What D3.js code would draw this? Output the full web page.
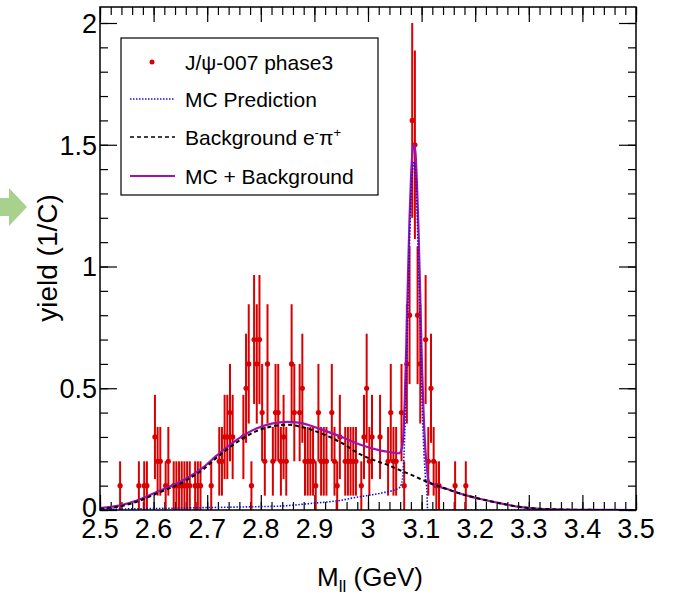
<!DOCTYPE html>
<html>
<head>
<script src="https://d3js.org/d3.v7.min.js"></script>
<style>
body { margin: 0; background: #fff; }
text { font-family: "Liberation Sans", Arial, Helvetica, sans-serif; fill: #000; }
</style>
</head>
<body>
<script>
// data points (bin centre in GeV, yield, error)
var dataMass = [2.5375, 2.5725, 2.5825, 2.5875, 2.6025, 2.6075, 2.6125, 2.6225, 2.6275,
  2.6375, 2.6425, 2.6475, 2.6525, 2.6575, 2.6625, 2.6675, 2.6775, 2.6825, 2.6875,
  2.7075, 2.7225, 2.7275, 2.7325, 2.7375, 2.7425, 2.7475, 2.7675, 2.7725, 2.7775,
  2.7825, 2.7875, 2.7925, 2.7975, 2.8025, 2.8075, 2.8125, 2.8225, 2.8275, 2.8325,
  2.8375, 2.8425, 2.8475, 2.8575, 2.8625, 2.8725, 2.8775, 2.8825, 2.8875, 2.8925,
  2.8975, 2.9025, 2.9075, 2.9125, 2.9175, 2.9225, 2.9325, 2.9375, 2.9425, 2.9475,
  2.9575, 2.9625, 2.9675, 2.9725, 2.9775, 2.9875, 2.9925, 2.9975, 3.0025, 3.0075,
  3.0225, 3.0375, 3.0425, 3.0475, 3.0525, 3.0625, 3.0675, 3.0725, 3.0775, 3.0825,
  3.0875, 3.0925, 3.0975, 3.1075, 3.1125, 3.1175, 3.1225, 3.1275, 3.1325, 3.1625, 3.1825];
var dataYield = [0.1, 0.1, 0.1, 0.1, 0.3, 0.2, 0.2, 0.1, 0.2,
  0.1, 0.1, 0.1, 0.1, 0.1, 0.1, 0.1, 0.1, 0.1, 0.1,
  0.1, 0.2, 0.2, 0.3, 0.3, 0.4, 0.3, 0.3, 0.5, 0.6,
  0.1, 0.7, 0.6, 0.7, 0.4, 0.2, 0.6, 0.2, 0.4, 0.4,
  0.2, 0.3, 0.2, 0.6, 0.4, 0.4, 0.5, 0.2, 0.2, 0.2,
  0.2, 0.1, 0.4, 0.2, 0.2, 0.2, 0.4, 0.2, 0.1, 0.3,
  0.2, 0.2, 0.2, 0.2, 0.2, 0.1, 0.3, 0.5, 0.2, 0.3,
  0.3, 0.2, 0.4, 0.2, 0.2, 0.4, 0.1, 0.6, 0.8, 1.6,
  1.5, 0.8, 0.6, 0.7, 0.2, 0.5, 0.2, 0.1, 0.1, 0.1, 0.1];
var dataError = [0.1, 0.1, 0.1, 0.1, 0.173, 0.141, 0.141, 0.1, 0.141,
  0.1, 0.1, 0.1, 0.1, 0.1, 0.1, 0.1, 0.1, 0.1, 0.1,
  0.1, 0.141, 0.141, 0.173, 0.173, 0.2, 0.173, 0.173, 0.224, 0.245,
  0.1, 0.265, 0.245, 0.265, 0.2, 0.141, 0.245, 0.141, 0.2, 0.2,
  0.141, 0.173, 0.141, 0.245, 0.2, 0.2, 0.224, 0.141, 0.141, 0.141,
  0.141, 0.1, 0.2, 0.141, 0.141, 0.141, 0.2, 0.141, 0.1, 0.173,
  0.141, 0.141, 0.141, 0.141, 0.141, 0.1, 0.173, 0.224, 0.141, 0.173,
  0.173, 0.141, 0.2, 0.141, 0.141, 0.2, 0.1, 0.245, 0.283, 0.4,
  0.387, 0.283, 0.245, 0.265, 0.141, 0.224, 0.141, 0.1, 0.1, 0.1, 0.1];

// MC prediction (blue dotted)
var mcMass = [2.5, 2.6, 2.7, 2.8, 2.836, 2.898, 2.95, 2.973, 3.0, 3.03, 3.0576, 3.062, 3.0655,
  3.0685, 3.0715, 3.0745, 3.0775, 3.0805, 3.0835, 3.086, 3.0885, 3.0915, 3.0944, 3.0976,
  3.1006, 3.1037, 3.107, 3.11, 3.1112, 3.2, 3.5];
var mcYield = [0.003, 0.006, 0.01, 0.014, 0.016, 0.028, 0.04, 0.05, 0.06, 0.072, 0.09, 0.105, 0.16,
  0.31, 0.55, 0.84, 1.1, 1.3, 1.4, 1.43, 1.39, 1.22, 1.0, 0.74,
  0.47, 0.27, 0.14, 0.075, 0, 0, 0];

// background e-pi+ (black dashed)
var bgMass = [2.5, 2.54, 2.57, 2.606, 2.656, 2.693, 2.718, 2.755, 2.793, 2.82, 2.85, 2.874,
  2.911, 2.949, 2.986, 3.021, 3.037, 3.058, 3.081, 3.111, 3.148, 3.18, 3.21, 3.25, 3.282,
  3.32, 3.36, 3.42, 3.5];
var bgYield = [0.005, 0.016, 0.035, 0.068, 0.116, 0.168, 0.215, 0.278, 0.325, 0.343, 0.35, 0.342,
  0.316, 0.278, 0.228, 0.197, 0.185, 0.165, 0.144, 0.115, 0.085, 0.062, 0.045, 0.026, 0.013,
  0.005, 0.002, 0.0005, 0];

// MC + background (magenta)
var sumMass = [2.5, 2.54, 2.57, 2.606, 2.656, 2.693, 2.718, 2.755, 2.793, 2.82, 2.85, 2.874,
  2.911, 2.949, 2.986, 3.024, 3.045, 3.058, 3.062, 3.0655, 3.0685, 3.0715, 3.0745, 3.0775,
  3.0805, 3.0835, 3.086, 3.0885, 3.0915, 3.0944, 3.0976, 3.1006, 3.1037, 3.107, 3.11, 3.113,
  3.118, 3.148, 3.18, 3.21, 3.25, 3.282, 3.32, 3.36, 3.42, 3.5];
var sumYield = [0.008, 0.02, 0.04, 0.074, 0.123, 0.176, 0.224, 0.288, 0.336, 0.355, 0.362, 0.358,
  0.332, 0.302, 0.268, 0.244, 0.236, 0.233, 0.245, 0.29, 0.45, 0.68, 0.95, 1.2,
  1.38, 1.48, 1.5, 1.47, 1.33, 1.14, 0.87, 0.6, 0.4, 0.25, 0.17, 0.12,
  0.108, 0.086, 0.062, 0.045, 0.026, 0.013, 0.005, 0.002, 0.0005, 0];

var xMajor = [2.5, 2.6, 2.7, 2.8, 2.9, 3.0, 3.1, 3.2, 3.3, 3.4, 3.5];
var xLabels = ["2.5", "2.6", "2.7", "2.8", "2.9", "3", "3.1", "3.2", "3.3", "3.4", "3.5"];
var yMajor = [0, 0.5, 1, 1.5, 2];
var yLabels = ["0", "0.5", "1", "1.5", "2"];

var width = 685, height = 596;
var plotL = 100, plotR = 636, plotT = 7, plotB = 510;

var svg = d3.select("body").append("svg")
  .attr("width", width).attr("height", height);

// green arrow piece at the left edge
svg.append("polygon")
  .attr("points", "0,198 9,198 9,188 27,207 9,226 9,216 0,216")
  .attr("fill", "#a9d18e");

var x = d3.scaleLinear().domain([2.5, 3.5]).range([plotL, plotR]);
var y = d3.scaleLinear().domain([0, 2.0657]).range([plotB, plotT]);

svg.append("defs").append("clipPath").attr("id", "clip")
  .append("rect").attr("x", plotL).attr("y", plotT)
  .attr("width", plotR - plotL).attr("height", plotB - plotT);

var xMinor = d3.range(0, 51).map(function(i) { return 2.5 + i * 0.02; });
var yMinor = d3.range(0, 21).map(function(i) { return i * 0.1; });

function tickAxis(axis, vals, size, tr) {
  var g = svg.append("g").attr("transform", tr)
    .call(axis.tickValues(vals).tickSize(size).tickFormat(""));
  g.select(".domain").remove();
  g.selectAll("line").attr("stroke", "#000").attr("stroke-width", 1.2);
}
tickAxis(d3.axisTop(x), xMinor, 8, "translate(0," + plotB + ")");
tickAxis(d3.axisTop(x), xMajor, 15, "translate(0," + plotB + ")");
tickAxis(d3.axisBottom(x), xMinor, 8, "translate(0," + plotT + ")");
tickAxis(d3.axisBottom(x), xMajor, 15, "translate(0," + plotT + ")");
tickAxis(d3.axisRight(y), yMinor, 8, "translate(" + plotL + ",0)");
tickAxis(d3.axisRight(y), yMajor, 17, "translate(" + plotL + ",0)");
tickAxis(d3.axisLeft(y), yMinor, 8, "translate(" + plotR + ",0)");
tickAxis(d3.axisLeft(y), yMajor, 17, "translate(" + plotR + ",0)");

// tick labels
svg.append("g").selectAll("text").data(xMajor).enter().append("text")
  .attr("x", function(d) { return x(d); })
  .attr("y", 538)
  .attr("text-anchor", "middle")
  .style("font-size", "27px")
  .text(function(d, i) { return xLabels[i]; });

svg.append("g").selectAll("text").data(yMajor).enter().append("text")
  .attr("x", 97)
  .attr("y", function(d) { return y(d) + (d === 0 ? 7 : 10); })
  .attr("text-anchor", "end")
  .style("font-size", "27px")
  .text(function(d, i) { return yLabels[i]; });

// axis titles
var xt = svg.append("text").attr("x", 370).attr("y", 586)
  .attr("text-anchor", "middle").style("font-size", "26px");
xt.append("tspan").text("M");
xt.append("tspan").attr("dy", 6).style("font-size", "17px").text("ll");
xt.append("tspan").attr("dy", -6).text(" (GeV)");

svg.append("text")
  .attr("transform", "translate(57,258) rotate(-90)")
  .attr("text-anchor", "middle")
  .style("font-size", "28px")
  .text("yield (1/C)");

// data: error bars and markers
var points = dataMass.map(function(m, i) {
  return {m: m, v: dataYield[i], e: dataError[i]};
});
var dataG = svg.append("g").attr("clip-path", "url(#clip)");
dataG.selectAll("line.err").data(points).enter().append("line")
  .attr("class", "err")
  .attr("x1", function(d) { return x(d.m); })
  .attr("x2", function(d) { return x(d.m); })
  .attr("y1", function(d) { return y(Math.max(0, d.v - d.e)); })
  .attr("y2", function(d) { return y(d.v + d.e); })
  .attr("stroke", "#d80000")
  .attr("stroke-width", 2);
dataG.selectAll("circle").data(points).enter().append("circle")
  .attr("cx", function(d) { return x(d.m); })
  .attr("cy", function(d) { return y(d.v); })
  .attr("r", 2.6)
  .attr("fill", "#d80000");

// curves
var line = d3.line()
  .x(function(d) { return x(d[0]); })
  .y(function(d) { return y(d[1]); })
  .curve(d3.curveMonotoneX);

function zip(a, b) { return a.map(function(v, i) { return [v, b[i]]; }); }

var curveG = svg.append("g").attr("clip-path", "url(#clip)");
curveG.append("path").attr("d", line(zip(sumMass, sumYield)))
  .attr("fill", "none").attr("stroke", "#a012a8").attr("stroke-width", 2.2);
curveG.append("path").attr("d", line(zip(bgMass, bgYield)))
  .attr("fill", "none").attr("stroke", "#000").attr("stroke-width", 2)
  .attr("stroke-dasharray", "4,3");
curveG.append("path").attr("d", line(zip(mcMass, mcYield)))
  .attr("fill", "none").attr("stroke", "#1010ee").attr("stroke-width", 1.6)
  .attr("stroke-dasharray", "1.5,1.6");

// frame
svg.append("rect")
  .attr("x", plotL).attr("y", plotT)
  .attr("width", plotR - plotL).attr("height", plotB - plotT)
  .attr("fill", "none").attr("stroke", "#000").attr("stroke-width", 1.5);

// legend
var leg = svg.append("g");
leg.append("rect").attr("x", 121).attr("y", 38).attr("width", 257).attr("height", 157)
  .attr("fill", "#fff").attr("stroke", "#000").attr("stroke-width", 1.2);
var rows = [62, 99, 137, 176];
leg.append("circle").attr("cx", 152).attr("cy", rows[0]).attr("r", 2.5).attr("fill", "#d80000");
leg.append("line").attr("x1", 130).attr("x2", 175).attr("y1", rows[1]).attr("y2", rows[1])
  .attr("stroke", "#1010ee").attr("stroke-width", 1.4).attr("stroke-dasharray", "1.5,1.5");
leg.append("line").attr("x1", 130).attr("x2", 175).attr("y1", rows[2]).attr("y2", rows[2])
  .attr("stroke", "#000").attr("stroke-width", 1.4).attr("stroke-dasharray", "4,3");
leg.append("line").attr("x1", 130).attr("x2", 175).attr("y1", rows[3]).attr("y2", rows[3])
  .attr("stroke", "#a012a8").attr("stroke-width", 1.8);

function legText(row) {
  return leg.append("text").attr("x", 185).attr("y", rows[row] + 7.5).style("font-size", "21px");
}
legText(0).text("J/\u03c8-007 phase3");
legText(1).text("MC Prediction");
var bt = legText(2);
bt.append("tspan").text("Background e");
bt.append("tspan").attr("dy", -8).style("font-size", "13px").text("-");
bt.append("tspan").attr("dy", 8).text("\u03c0");
bt.append("tspan").attr("dy", -8).style("font-size", "13px").text("+");
legText(3).text("MC + Background");
</script>
</body>
</html>
